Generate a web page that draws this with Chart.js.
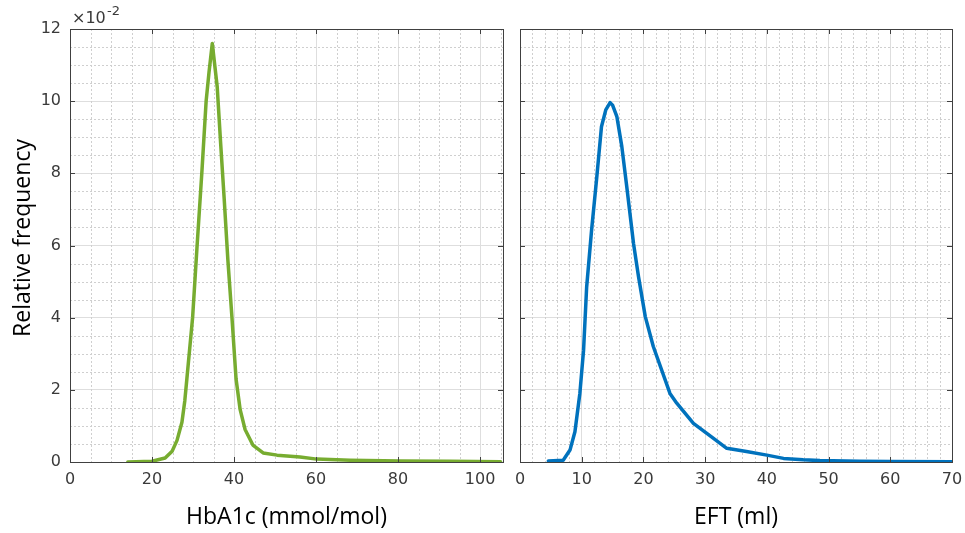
<!DOCTYPE html>
<html>
<head>
<meta charset="utf-8">
<script src="https://cdn.jsdelivr.net/npm/chart.js@4.4.0/dist/chart.umd.min.js"></script>
<style>
    html, body { margin: 0; padding: 0; background: #fff; }
    #wrap { position: relative; width: 965px; height: 533px; overflow: hidden; }
    canvas { position: absolute; top: 0; }
</style>
</head>
<body>
<div id="wrap">
    <canvas id="hba1cChart" width="510" height="533" style="left:0"></canvas>
    <canvas id="eftChart" width="455" height="533" style="left:510px"></canvas>
</div>
<script>
// HbA1c distribution (relative frequency, x 10^-2)
const hbaX = [14.1, 20, 23.2, 24.9, 26.1, 27.3, 28.0, 28.5, 29.9, 31.0, 32.2, 33.2, 33.9, 34.7,
              35.9, 36.7, 37.6, 38.5, 39.5, 40.5, 41.5, 42.7, 44.6, 47.1, 50.5, 56.1, 60.2, 68.3, 80.5, 92.7, 105];
const hbaY = [0, 0.02, 0.11, 0.3, 0.6, 1.1, 1.7, 2.3, 4.0, 6.0, 8.1, 10.0, 10.8, 11.6,
              10.4, 8.9, 7.3, 5.6, 4.0, 2.3, 1.45, 0.9, 0.47, 0.25, 0.19, 0.14, 0.08, 0.05, 0.03, 0.02, 0.01];

// EFT distribution
const eftX = [4.6, 7.0, 8.1, 8.9, 9.7, 10.3, 10.8, 11.6, 12.4, 13.2, 13.9, 14.6, 15.0, 15.7, 16.5, 17.3,
              18.4, 19.2, 20.3, 21.6, 24.3, 25.4, 28.1, 31.3, 33.5, 36.7, 40.0, 42.7, 45.9, 48.6, 55, 60, 70];
const eftY = [0.03, 0.05, 0.33, 0.84, 1.9, 3.1, 4.85, 6.43, 7.82, 9.29, 9.76, 9.96, 9.89, 9.57, 8.74, 7.63,
              6.05, 5.14, 4.03, 3.2, 1.9, 1.63, 1.07, 0.66, 0.38, 0.29, 0.19, 0.1, 0.06, 0.04, 0.02, 0.015, 0.01];

const yTicks = [0, 2, 4, 6, 8, 10, 12];
const hbaTicks = [0, 20, 40, 60, 80, 100];
const eftTicks = [0, 10, 20, 30, 40, 50, 60, 70];

const colors = {
    green: '#77ac30',
    blue: '#0072bd',
    axis: '#404040',
    text: '#3a3a3a',
    grid: '#dedede',
    minor: '#cfcfcf'
};

const titleFamily = '"Open Sans"';

// MATLAB-ish box: dotted minor grid, full frame, inward tick marks
const boxPlugin = {
    id: 'matlabBox',
    beforeDatasetsDraw(chart, args, opts) {
        const { ctx, chartArea: a, scales: { x, y } } = chart;
        ctx.save();
        ctx.strokeStyle = colors.minor;
        ctx.lineWidth = 1;
        ctx.setLineDash([2, 2]);
        for (let v = x.min; v <= x.max; v += opts.xMinor) {
            if (Math.abs(v / opts.xMajor - Math.round(v / opts.xMajor)) < 1e-6) continue;
            const px = Math.round(x.getPixelForValue(v)) + 0.5;
            ctx.beginPath(); ctx.moveTo(px, a.top); ctx.lineTo(px, a.bottom); ctx.stroke();
        }
        for (let v = y.min; v <= y.max; v += 0.5) {
            if (Math.abs(v / 2 - Math.round(v / 2)) < 1e-6) continue;
            const py = Math.round(y.getPixelForValue(v)) + 0.5;
            ctx.beginPath(); ctx.moveTo(a.left, py); ctx.lineTo(a.right, py); ctx.stroke();
        }
        ctx.restore();
    },
    afterDraw(chart, args, opts) {
        const { ctx, chartArea: a, scales: { x, y } } = chart;
        ctx.save();
        ctx.strokeStyle = colors.axis;
        ctx.lineWidth = 1;
        ctx.strokeRect(Math.round(a.left) + 0.5, Math.round(a.top) + 0.5,
                       Math.round(a.right - a.left), Math.round(a.bottom - a.top));
        const len = 5;
        x.ticks.forEach(t => {
            const px = Math.round(x.getPixelForValue(t.value)) + 0.5;
            ctx.beginPath();
            ctx.moveTo(px, a.bottom); ctx.lineTo(px, a.bottom - len);
            ctx.moveTo(px, a.top); ctx.lineTo(px, a.top + len);
            ctx.stroke();
        });
        y.ticks.forEach(t => {
            const py = Math.round(y.getPixelForValue(t.value)) + 0.5;
            ctx.beginPath();
            ctx.moveTo(a.left, py); ctx.lineTo(a.left + len, py);
            ctx.moveTo(a.right, py); ctx.lineTo(a.right - len, py);
            ctx.stroke();
        });
        if (opts.exponent) {
            ctx.fillStyle = colors.text;
            ctx.textBaseline = 'alphabetic';
            ctx.font = '16px "DejaVu Sans"';
            ctx.fillText('\u00d710', a.left + 2, 23);
            ctx.font = '13px "DejaVu Sans"';
            ctx.fillText('-2', a.left + 37, 15);
        }
        if (opts.yTitle) {
            // drawn by hand so it can sit slightly above the plot centre, like the original
            ctx.translate(23, 238);
            ctx.rotate(-Math.PI / 2);
            ctx.fillStyle = '#000';
            ctx.font = '23px ' + titleFamily;
            ctx.textAlign = 'center';
            ctx.textBaseline = 'middle';
            ctx.fillText(opts.yTitle, 0, 0);
        }
        ctx.restore();
    }
};

function buildChart(id, xs, ys, color, xMax, xTicks, opts) {
    const canvas = document.getElementById(id);
    const points = xs.map((v, i) => ({ x: v, y: ys[i] }));
    const tickFont = { family: 'DejaVu Sans', size: 16 };

    return new Chart(canvas.getContext('2d'), {
        type: 'line',
        data: {
            datasets: [{
                data: points,
                borderColor: color,
                borderWidth: 3.5,
                borderJoinStyle: 'round',
                borderCapStyle: 'round',
                pointRadius: 0,
                tension: 0,
                fill: false
            }]
        },
        plugins: [boxPlugin],
        options: {
            responsive: false,
            animation: false,
            layout: { padding: { top: 29, right: opts.padRight, left: 0, bottom: 0 } },
            plugins: {
                legend: { display: false },
                tooltip: { enabled: false },
                matlabBox: {
                    xMinor: opts.xMinor, xMajor: opts.xMajor,
                    exponent: opts.exponent, yTitle: opts.yTitle
                }
            },
            scales: {
                x: {
                    type: 'linear',
                    min: 0,
                    max: xMax,
                    afterBuildTicks: s => { s.ticks = xTicks.map(v => ({ value: v })); },
                    afterFit: s => {
                        s.height = 71;
                        s.paddingLeft = 0;
                        s.paddingRight = 0;
                    },
                    grid: { color: colors.grid, drawTicks: false },
                    border: { color: colors.axis },
                    ticks: { padding: 8, color: colors.text, font: tickFont, maxRotation: 0 },
                    title: {
                        display: true,
                        text: opts.xTitle,
                        color: '#000',
                        font: { family: titleFamily, size: 23 },
                        padding: { top: 0, bottom: 2 }
                    }
                },
                y: {
                    type: 'linear',
                    min: 0,
                    max: 12,
                    afterBuildTicks: s => { s.ticks = yTicks.map(v => ({ value: v })); },
                    afterFit: s => {
                        s.width = opts.yWidth;
                        s.paddingTop = 0;
                        s.paddingBottom = 0;
                    },
                    grid: { color: colors.grid, drawTicks: false },
                    border: { color: colors.axis },
                    ticks: { display: opts.yLabels, padding: 9, color: colors.text, font: tickFont }
                }
            }
        }
    });
}

buildChart('hba1cChart', hbaX, hbaY, colors.green, 105.6, hbaTicks, {
    padRight: 7, yWidth: 70, yLabels: true, yTitle: 'Relative frequency',
    xTitle: 'HbA1c (mmol/mol)', xMinor: 5, xMajor: 20, exponent: true
});

buildChart('eftChart', eftX, eftY, colors.blue, 70, eftTicks, {
    padRight: 13, yWidth: 10, yLabels: false, yTitle: null,
    xTitle: 'EFT (ml)', xMinor: 2, xMajor: 10, exponent: false
});
</script>
</body>
</html>
